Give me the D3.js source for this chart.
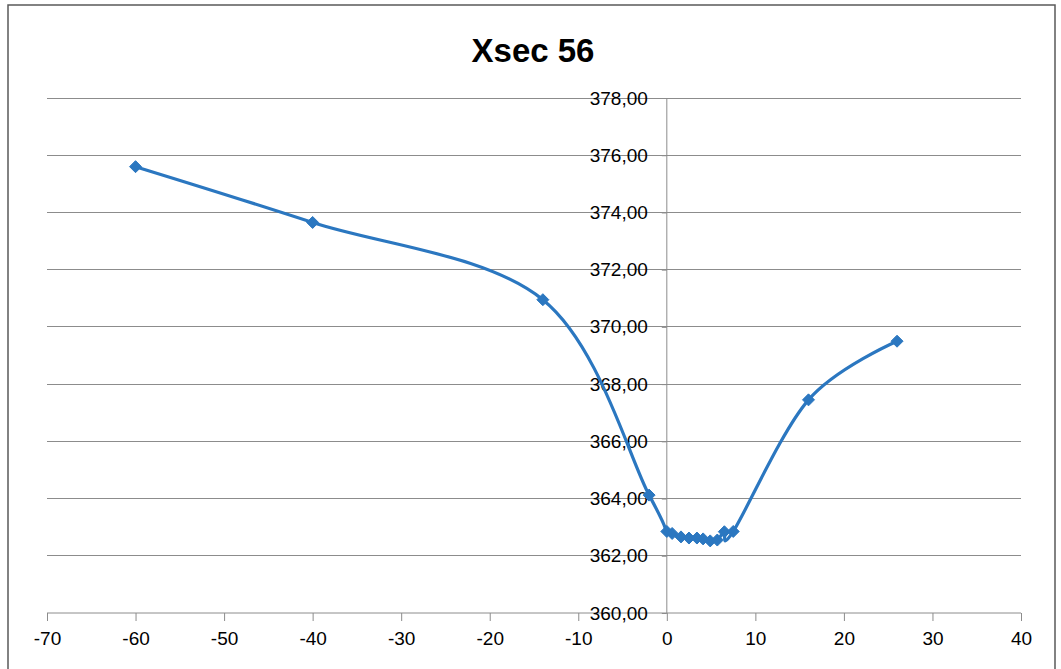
<!DOCTYPE html>
<html><head><meta charset="utf-8">
<script src="https://cdn.jsdelivr.net/npm/d3@7"></script>
<style>body{margin:0;background:#fff}svg{display:block}</style>
</head><body>
<svg id="c" width="1061" height="669"></svg>
<script>
const title = "Xsec 56";
const xValues = [-60, -40, -14, -2, 0, 0.6, 1.6, 2.5, 3.4, 4.1, 4.9, 5.7, 6.5, 7.5, 16, 26];
const yValues = [375.6, 373.65, 370.95, 364.12, 362.85, 362.78, 362.66, 362.62, 362.62, 362.59, 362.52, 362.55, 362.84, 362.85, 367.45, 369.5];
const xTicks = [-70, -60, -50, -40, -30, -20, -10, 0, 10, 20, 30, 40];
const yTicks = [360, 362, 364, 366, 368, 370, 372, 374, 376, 378];

const svg = d3.select("#c");
const font = "'Liberation Sans', Arial, sans-serif";
svg.append("rect").attr("x", 8).attr("y", 5).attr("width", 1047).attr("height", 670)
  .attr("fill", "#fff").attr("stroke", "#595959").attr("stroke-width", 1.5);

const x = d3.scaleLinear().domain([-70, 40]).range([47, 1021]);
const y = d3.scaleLinear().domain([360, 378]).range([613, 98]);

svg.append("text").attr("x", 533).attr("y", 62).attr("text-anchor", "middle")
  .attr("font-family", font).attr("font-weight", "bold").attr("font-size", 33).text(title);

// gridlines
svg.append("g").selectAll("line").data(yTicks.filter(d => d !== 360)).join("line")
  .attr("x1", x(-70)).attr("x2", x(40)).attr("y1", d => y(d)).attr("y2", d => y(d))
  .attr("stroke", "#8c8c8c").attr("stroke-width", 1).attr("shape-rendering", "crispEdges");

// x axis at y=360
const xAxis = d3.axisBottom(x).tickValues(xTicks).tickSize(8).tickPadding(11).tickFormat(d3.format("d"));
const gx = svg.append("g").attr("transform", `translate(0,${y(360)})`).call(xAxis);
gx.select(".domain").attr("stroke", "#8c8c8c").attr("d", `M${x(-70)},0H${x(40)}`);
gx.selectAll(".tick line").attr("stroke", "#8c8c8c");
gx.selectAll(".tick text").attr("font-family", font).attr("font-size", 19).attr("fill", "#000")
  .text(d => d < 0 ? "-" + Math.abs(d) : d);

// y axis at x=0
const fmt = d => d.toFixed(2).replace(".", ",");
const yAxis = d3.axisLeft(y).tickValues(yTicks).tickSize(5).tickPadding(14).tickFormat(fmt);
const gy = svg.append("g").attr("transform", `translate(${x(0)},0)`).call(yAxis);
gy.select(".domain").attr("stroke", "#8c8c8c").attr("d", `M0,${y(378)}V${y(360)}`);
gy.selectAll(".tick line").attr("stroke", "#8c8c8c");
gy.selectAll(".tick text").attr("font-family", font).attr("font-size", 19).attr("fill", "#000");

const pts = xValues.map((v, i) => [v, yValues[i]]);
const line = d3.line().x(d => x(d[0])).y(d => y(d[1])).curve(d3.curveCatmullRom.alpha(0));
const color = "#2B77C0";
svg.append("path").datum(pts).attr("d", line).attr("fill", "none")
  .attr("stroke", color).attr("stroke-width", 3.2).attr("stroke-linejoin", "round");

svg.append("g").selectAll("path").data(pts).join("path")
  .attr("transform", d => `translate(${x(d[0])},${y(d[1])})`)
  .attr("d", "M0,-6L6,0L0,6L-6,0Z").attr("fill", color).attr("stroke", color).attr("stroke-width", 1);
</script>
</body></html>
